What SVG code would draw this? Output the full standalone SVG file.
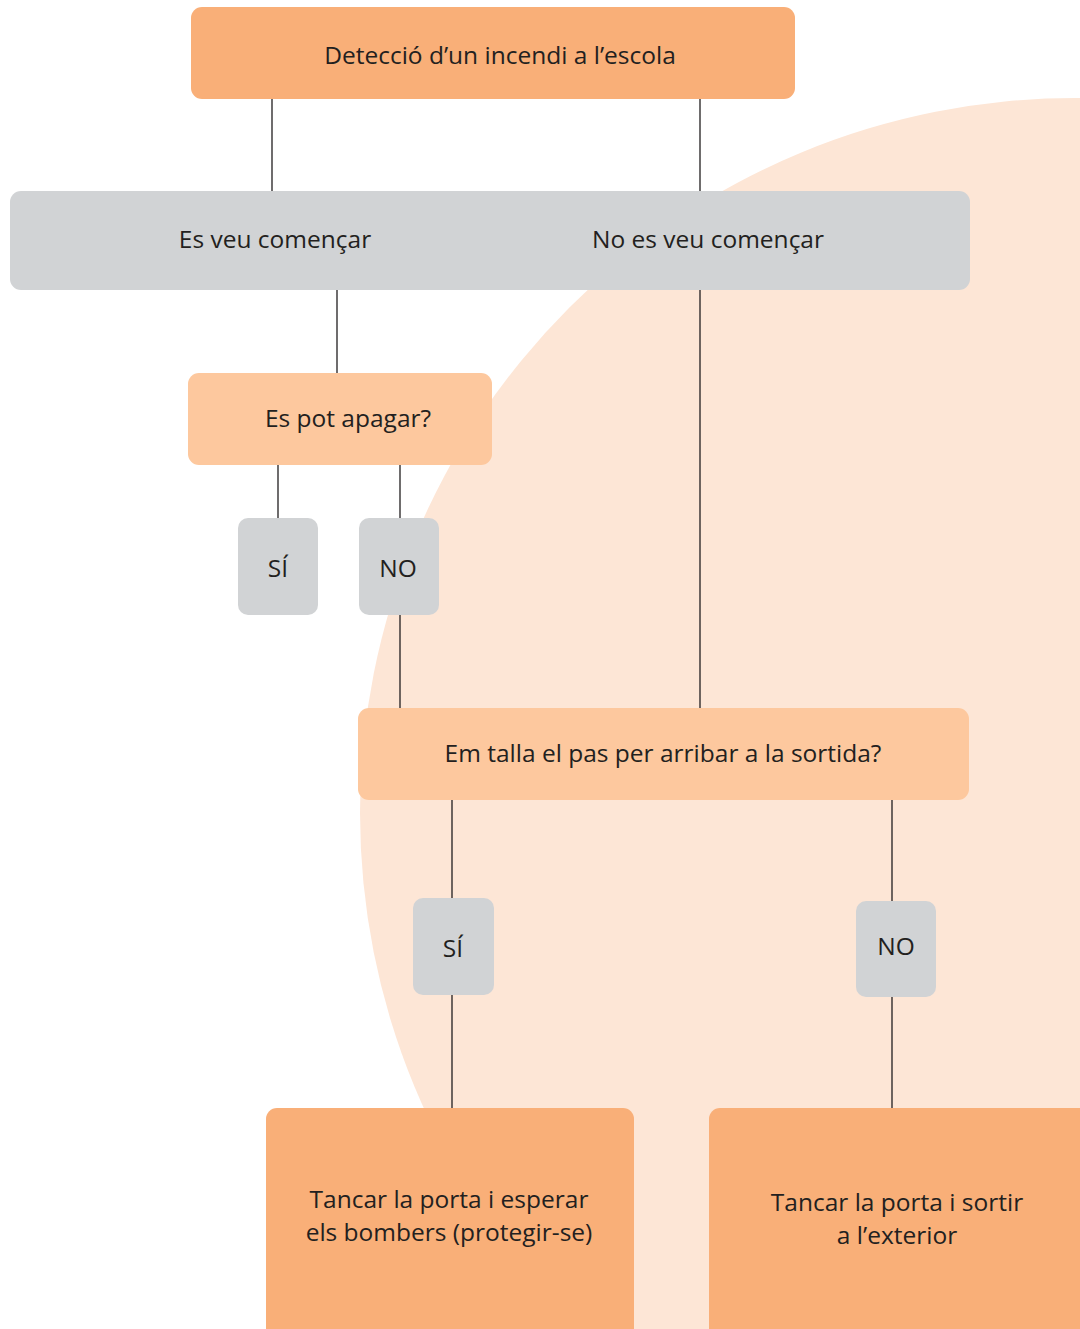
<svg xmlns="http://www.w3.org/2000/svg" width="1080" height="1329" viewBox="0 0 1080 1329">
  <style>
    .lbl { font-family: "Open Sans", "Liberation Sans", sans-serif; font-size: 24.5px; fill: #231F20; text-anchor: middle; dominant-baseline: central; }
    .strong { fill: #F9AF78; }
    .soft { fill: #FDC89E; }
    .grey { fill: #D1D3D5; }
    .link { stroke: #231F20; stroke-width: 1.3; fill: none; }
  </style>
  <rect width="1080" height="1329" fill="#FFFFFF"/>
  <!-- backdrop disc -->
  <circle cx="1075" cy="813" r="715" fill="#FDE6D6"/>

  <g id="connectors">
    <path class="link" d="M272 99V191M700 99V191M337 290V373M700 290V708M278 465V518M400 465V518M400 615V708M452 800V898M452 995V1108M892 800V901M892 997V1108"/>
  </g>

  <g id="n-deteccio">
    <rect class="strong" x="191" y="7" width="604" height="92" rx="11"/>
    <text class="lbl" x="500" y="54">Detecció d’un incendi a l’escola</text>
  </g>
  <g id="n-veu">
    <rect class="grey" x="10" y="191" width="960" height="99" rx="11"/>
    <text class="lbl" x="275" y="238">Es veu començar</text>
    <text class="lbl" x="708" y="238">No es veu començar</text>
  </g>
  <g id="n-apagar">
    <rect class="soft" x="188" y="373" width="304" height="92" rx="11"/>
    <text class="lbl" x="348" y="417">Es pot apagar?</text>
  </g>
  <g id="n-si1">
    <rect class="grey" x="238" y="518" width="80" height="97" rx="10"/>
    <text class="lbl" x="278" y="567">SÍ</text>
  </g>
  <g id="n-no1">
    <rect class="grey" x="359" y="518" width="80" height="97" rx="10"/>
    <text class="lbl" x="398" y="567">NO</text>
  </g>
  <g id="n-talla">
    <rect class="soft" x="358" y="708" width="611" height="92" rx="11"/>
    <text class="lbl" x="663" y="752">Em talla el pas per arribar a la sortida?</text>
  </g>
  <g id="n-si2">
    <rect class="grey" x="413" y="898" width="81" height="97" rx="10"/>
    <text class="lbl" x="453" y="947">SÍ</text>
  </g>
  <g id="n-no2">
    <rect class="grey" x="856" y="901" width="80" height="96" rx="10"/>
    <text class="lbl" x="896" y="945">NO</text>
  </g>
  <g id="n-esperar">
    <rect class="strong" x="266" y="1108" width="368" height="240" rx="11"/>
    <text class="lbl" x="449" y="1198">Tancar la porta i esperar</text>
    <text class="lbl" x="449" y="1231">els bombers (protegir-se)</text>
  </g>
  <g id="n-sortir">
    <rect class="strong" x="709" y="1108" width="400" height="240" rx="11"/>
    <text class="lbl" x="897" y="1201">Tancar la porta i sortir</text>
    <text class="lbl" x="897" y="1234">a l’exterior</text>
  </g>
</svg>
